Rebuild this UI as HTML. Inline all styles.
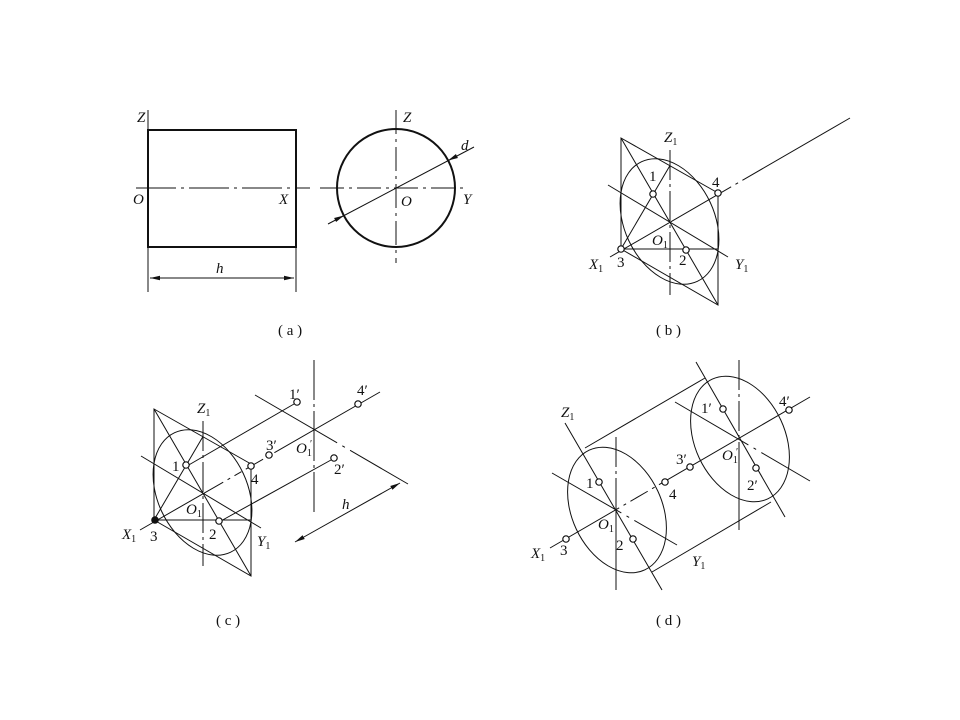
<!DOCTYPE html>
<html><head><meta charset="utf-8"><style>
html,body{margin:0;padding:0;background:#fff;}
svg{display:block;}
text{font-family:"Liberation Serif",serif;font-size:15px;fill:#111;}
.i{font-style:italic;}
.s{font-size:10px;font-style:normal;}
</style></head><body>
<svg width="960" height="720" viewBox="0 0 960 720" xmlns="http://www.w3.org/2000/svg">
<defs>
<marker id="ar" viewBox="0 0 10 6" refX="10" refY="3" markerWidth="10" markerHeight="6" orient="auto-start-reverse" markerUnits="userSpaceOnUse"><path d="M0,0.8 L10,3 L0,5.2z" fill="#111"/></marker>
</defs>
<g stroke="#111" fill="none" stroke-width="1">
<!-- (a) -->
<rect x="148" y="130" width="148" height="117" stroke-width="2"/>
<line x1="136" y1="188" x2="310" y2="188" stroke-dasharray="40 5 3 5"/>
<line x1="148" y1="110" x2="148" y2="292"/>
<line x1="296" y1="247" x2="296" y2="292"/>
<line x1="150" y1="278" x2="294" y2="278" marker-start="url(#ar)" marker-end="url(#ar)"/>
<circle cx="396" cy="188" r="59" stroke-width="2"/>
<line x1="320" y1="188" x2="466" y2="188" stroke-dasharray="24 5 3 5"/>
<line x1="396" y1="110" x2="396" y2="263" stroke-dasharray="24 5 3 5"/>
<line x1="328" y1="224" x2="474" y2="147"/>
<line x1="343" y1="216" x2="344" y2="215.5" marker-end="url(#ar)"/>
<line x1="449" y1="160" x2="448" y2="160.5" marker-end="url(#ar)"/>

<!-- (b) -->
<g id="pb">
<path d="M621,138 L718,193 L718,305 L621,249 Z"/>
<ellipse cx="0" cy="0" rx="66" ry="45" transform="translate(669.5,221.5) rotate(65)"/>
<line x1="621" y1="249" x2="670" y2="165.5"/>
<line x1="621" y1="138" x2="718" y2="305"/>
<line x1="621" y1="249" x2="718" y2="249"/>
<line x1="670" y1="150" x2="670" y2="295" stroke-dasharray="30 4 3 4"/>
<line x1="608" y1="185" x2="728" y2="257"/>
</g>
<line x1="610" y1="257" x2="850" y2="118" stroke-dasharray="140 5 3 5 200"/>

<!-- (c) -->
<use href="#pb" transform="translate(-467,271)"/>
<line x1="140" y1="530" x2="380" y2="392" stroke-dasharray="96 5 3 5 8 5 3 5 12 5 3 5 200"/>
<line x1="187" y1="466" x2="294" y2="404"/>
<line x1="219" y1="522" x2="331" y2="460"/>
<line x1="314" y1="360" x2="314" y2="512" stroke-dasharray="40 4 3 4 50 4 3 4 200"/>
<line x1="255" y1="395" x2="408" y2="484" stroke-dasharray="95 6 3 6 200"/>
<line x1="295" y1="542" x2="400" y2="483" marker-start="url(#ar)" marker-end="url(#ar)"/>

<!-- (d) -->
<ellipse cx="0" cy="0" rx="66" ry="45" transform="translate(617,510) rotate(65)"/>
<ellipse cx="0" cy="0" rx="66" ry="45" transform="translate(740,439) rotate(65)"/>
<line x1="585" y1="448" x2="705" y2="378"/>
<line x1="652" y1="572" x2="771" y2="502"/>
<line x1="565" y1="423" x2="662" y2="590"/>
<line x1="696" y1="362" x2="785" y2="517"/>
<line x1="616" y1="437" x2="616" y2="590" stroke-dasharray="30 4 3 4 200"/>
<line x1="739" y1="360" x2="739" y2="530" stroke-dasharray="30 4 3 4 30 4 3 4 200"/>
<line x1="552" y1="473" x2="677" y2="545" stroke-dasharray="80 6 3 6 200"/>
<line x1="675" y1="402" x2="810" y2="481" stroke-dasharray="85 6 3 6 200"/>
<line x1="550" y1="548" x2="810" y2="397" stroke-dasharray="80 5 3 5 20 5 3 5 200"/>
</g>
<!-- small circles -->
<g stroke="#111" fill="#fff" stroke-width="1.2">
<circle cx="653" cy="194" r="3.2"/><circle cx="686" cy="250" r="3.2"/><circle cx="621" cy="249" r="3.2"/><circle cx="718" cy="193" r="3.2"/>
<circle cx="186" cy="465" r="3.2"/><circle cx="219" cy="521" r="3.2"/><circle cx="155" cy="520" r="3.2" fill="#111"/><circle cx="251" cy="466" r="3.2"/>
<circle cx="297" cy="402" r="3.2"/><circle cx="358" cy="404" r="3.2"/><circle cx="269" cy="455" r="3.2"/><circle cx="334" cy="458" r="3.2"/>
<circle cx="599" cy="482" r="3.2"/><circle cx="633" cy="539" r="3.2"/><circle cx="566" cy="539" r="3.2"/><circle cx="665" cy="482" r="3.2"/>
<circle cx="690" cy="467" r="3.2"/><circle cx="723" cy="409" r="3.2"/><circle cx="756" cy="468" r="3.2"/><circle cx="789" cy="410" r="3.2"/>
</g>
<!-- labels (a) -->
<text class="i" x="137" y="122">Z</text>
<text class="i" x="133" y="204">O</text>
<text class="i" x="279" y="204">X</text>
<text class="i" x="216" y="273">h</text>
<text class="i" x="403" y="122">Z</text>
<text class="i" x="401" y="206">O</text>
<text class="i" x="463" y="204">Y</text>
<text class="i" x="461" y="150">d</text>
<text x="278" y="335">( a )</text>
<!-- (b) -->
<text class="i" x="664" y="142">Z<tspan class="s" dy="3">1</tspan></text>
<text x="649" y="181">1</text>
<text x="712" y="187">4</text>
<text class="i" x="652" y="245">O<tspan class="s" dy="3">1</tspan></text>
<text class="i" x="589" y="269">X<tspan class="s" dy="3">1</tspan></text>
<text x="617" y="267">3</text>
<text x="679" y="265">2</text>
<text class="i" x="735" y="269">Y<tspan class="s" dy="3">1</tspan></text>
<text x="656" y="335">( b )</text>
<!-- (c) -->
<text class="i" x="197" y="413">Z<tspan class="s" dy="3">1</tspan></text>
<text x="172" y="471">1</text>
<text x="251" y="484">4</text>
<text class="i" x="186" y="514">O<tspan class="s" dy="3">1</tspan></text>
<text class="i" x="122" y="539">X<tspan class="s" dy="3">1</tspan></text>
<text x="150" y="541">3</text>
<text x="209" y="539">2</text>
<text class="i" x="257" y="546">Y<tspan class="s" dy="3">1</tspan></text>
<text x="289" y="399">1′</text>
<text x="357" y="395">4′</text>
<text x="266" y="450">3′</text>
<text class="i" x="296" y="453">O<tspan class="s" dy="3">1</tspan></text><text x="310" y="447" class="s">′</text>
<text x="334" y="474">2′</text>
<text class="i" x="342" y="509">h</text>
<text x="216" y="625">( c )</text>
<!-- (d) -->
<text class="i" x="561" y="417">Z<tspan class="s" dy="3">1</tspan></text>
<text x="586" y="488">1</text>
<text x="616" y="550">2</text>
<text x="560" y="555">3</text>
<text x="669" y="499">4</text>
<text class="i" x="598" y="529">O<tspan class="s" dy="3">1</tspan></text>
<text class="i" x="531" y="558">X<tspan class="s" dy="3">1</tspan></text>
<text class="i" x="692" y="566">Y<tspan class="s" dy="3">1</tspan></text>
<text x="676" y="464">3′</text>
<text class="i" x="722" y="460">O<tspan class="s" dy="3">1</tspan></text><text x="736" y="455" class="s">′</text>
<text x="701" y="413">1′</text>
<text x="747" y="490">2′</text>
<text x="779" y="406">4′</text>
<text x="656" y="625">( d )</text>
</svg>
</body></html>
